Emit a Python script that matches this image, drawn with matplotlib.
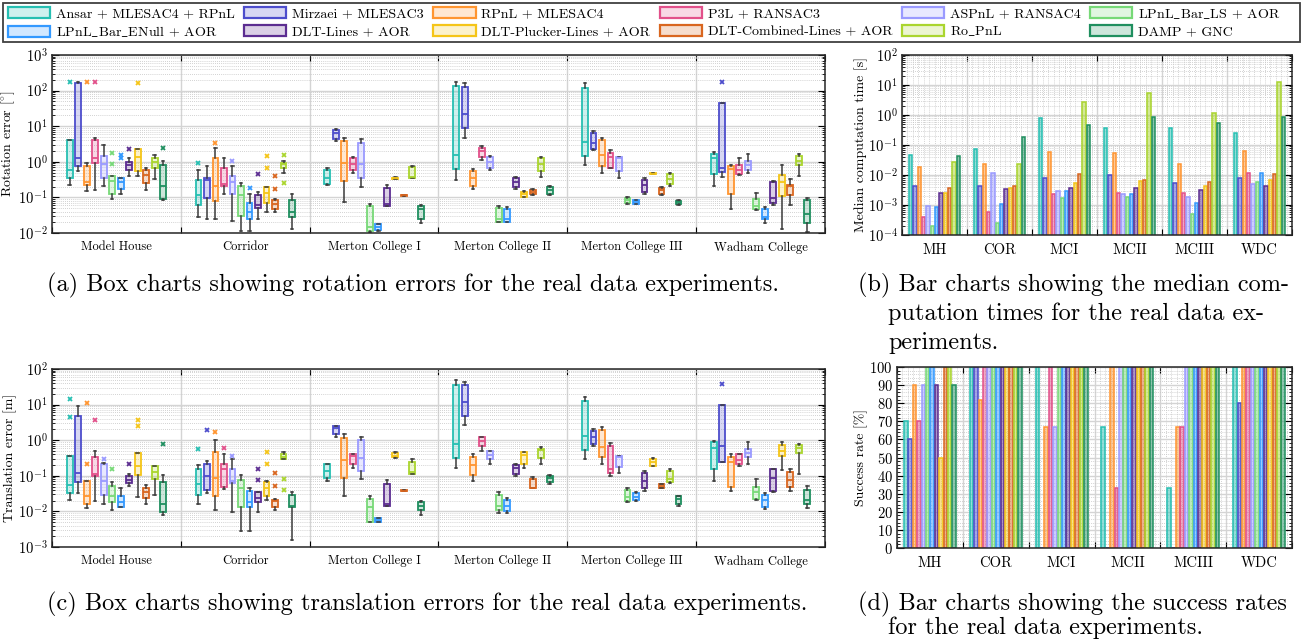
import numpy as np
import matplotlib
matplotlib.use("Agg")
import matplotlib.pyplot as plt
from matplotlib.patches import Patch, Rectangle
from matplotlib.ticker import LogLocator, MultipleLocator, NullFormatter, FixedLocator

plt.rcParams['font.family'] = ['cmr10', 'DejaVu Serif']
plt.rcParams['mathtext.fontset'] = 'cm'
plt.rcParams['axes.formatter.use_mathtext'] = True

# datasets (long names for box charts, short for bar charts)
datasets = ["Model House", "Corridor", "Merton College I", "Merton College II",
            "Merton College III", "Wadham College"]
datasets_short = ["MH", "COR", "MCI", "MCII", "MCIII", "WDC"]

methods = ["Ansar + MLESAC4 + RPnL", "Mirzaei + MLESAC3", "RPnL + MLESAC4",
           "P3L + RANSAC3", "ASPnL + RANSAC4", "LPnL$\\_$Bar$\\_$LS + AOR",
           "LPnL$\\_$Bar$\\_$ENull + AOR", "DLT-Lines + AOR", "DLT-Plucker-Lines + AOR",
           "DLT-Combined-Lines + AOR", "Ro$\\_$PnL", "DAMP + GNC"]
colors = ["#26bfb2", "#4d4dcc", "#ff9530", "#e2508a", "#9a9aff", "#77d977",
          "#3399ff", "#5c2d91", "#f5c518", "#d9661f", "#aad52e", "#1f8f5f"]

# rotation error [deg]: (whisker low, q1, median, q3, whisker high, outliers) per dataset
rot_ansar = [(0.23, 0.34, 0.6, 4.0, 4.0, [178]), (0.028, 0.06, 0.115, 0.3, 0.58, [0.93]),
             (0.23, 0.244, 0.34, 0.58, 0.67, []), (0.3, 0.62, 1.6, 134, 178, []),
             (0.8, 1.47, 3.5, 115, 160, []), (0.215, 0.44, 1.24, 1.71, 1.9, [])]
rot_mirzaei = [(0.55, 0.77, 1.24, 167, 178, []), (0.024, 0.099, 0.3, 0.36, 0.75, []),
               (3.8, 4.5, 6.25, 7.75, 8.3, []), (4.7, 9.0, 21.9, 128, 167, []),
               (2.1, 2.36, 3.27, 6.25, 7.5, []), (0.37, 0.53, 0.67, 45.6, 45.6, [178])]
rot_rpnl = [(0.149, 0.22, 0.27, 0.77, 0.93, [178]), (0.025, 0.078, 0.21, 1.24, 2.47, [3.27]),
            (0.075, 0.284, 0.93, 3.8, 4.7, []), (0.17, 0.21, 0.34, 0.56, 0.64, []),
            (0.49, 0.77, 1.6, 4.05, 4.7, []), (0.048, 0.128, 0.64, 0.75, 0.8, [])]
rot_p3l = [(0.166, 0.93, 1.32, 4.05, 4.8, [170]), (0.122, 0.21, 0.234, 0.67, 1.24, []),
           (0.5, 0.58, 0.85, 1.32, 1.38, []), (1.1, 1.38, 2.0, 2.5, 2.75, []),
           (0.67, 0.67, 1.38, 1.82, 2.2, []), (0.42, 0.44, 0.58, 0.8, 1.24, [])]
rot_aspnl = [(0.21, 0.36, 0.89, 1.47, 2.93, []), (0.022, 0.125, 0.27, 0.41, 0.75, [1.06]),
             (0.2, 0.36, 0.89, 3.48, 4.3, []), (0.58, 0.67, 1.0, 1.38, 1.47, []),
             (0.34, 0.56, 1.29, 1.38, 1.38, []), (0.5, 0.6, 0.8, 1.06, 1.71, [])]
rot_ls = [(0.092, 0.128, 0.29, 0.39, 0.39, [1.78, 0.89]), (0.0114, 0.031, 0.12, 0.21, 0.25, []),
          (0.011, 0.0114, 0.0147, 0.056, 0.067, []), (0.0204, 0.0204, 0.024, 0.05, 0.058, []),
          (0.067, 0.07, 0.083, 0.099, 0.105, []), (0.044, 0.048, 0.056, 0.092, 0.134, [])]
rot_enull = [(0.122, 0.17, 0.27, 0.35, 0.36, [1.6, 1.3]), (0.0114, 0.024, 0.039, 0.07, 0.128, [0.185]),
             (0.0114, 0.0118, 0.0147, 0.0175, 0.018, []), (0.0204, 0.0204, 0.025, 0.048, 0.053, []),
             (0.067, 0.067, 0.076, 0.087, 0.087, []), (0.019, 0.025, 0.029, 0.048, 0.053, [])]
rot_dlt = [(0.4, 0.6, 0.8, 1.0, 1.24, [2.36]), (0.024, 0.05, 0.06, 0.115, 0.143, [0.44]),
           (0.058, 0.058, 0.067, 0.18, 0.22, []), (0.17, 0.2, 0.27, 0.35, 0.37, []),
           (0.125, 0.143, 0.22, 0.3, 0.34, []), (0.063, 0.07, 0.097, 0.27, 0.29, [])]
rot_plucker = [(0.4, 0.54, 1.38, 2.36, 2.36, [167]), (0.039, 0.07, 0.136, 0.2, 0.2, [1.44, 0.67]),
               (0.33, 0.33, 0.34, 0.36, 0.37, []), (0.1, 0.1, 0.122, 0.143, 0.15, []),
               (0.45, 0.45, 0.46, 0.47, 0.47, []), (0.0132, 0.108, 0.27, 0.42, 0.8, [])]
rot_combined = [(0.16, 0.26, 0.42, 0.58, 0.67, []), (0.039, 0.048, 0.064, 0.087, 0.092, [0.4, 0.17]),
                (0.11, 0.11, 0.115, 0.12, 0.12, []), (0.115, 0.122, 0.143, 0.16, 0.17, []),
                (0.12, 0.125, 0.16, 0.18, 0.19, []), (0.063, 0.115, 0.21, 0.23, 0.32, [])]
rot_ropnl = [(0.32, 0.69, 1.0, 1.24, 1.6, []), (0.5, 0.67, 0.85, 0.95, 1.06, [1.6, 0.255]),
             (0.35, 0.35, 0.37, 0.72, 0.77, []), (0.37, 0.56, 0.85, 1.29, 1.38, []),
             (0.21, 0.234, 0.32, 0.45, 0.49, []), (0.39, 0.8, 1.06, 1.47, 1.65, [])]
rot_damp = [(0.085, 0.089, 0.21, 0.79, 1.06, [2.5]), (0.0132, 0.028, 0.039, 0.087, 0.128, []),
            (0.019, 0.025, 0.046, 0.058, 0.06, []), (0.115, 0.122, 0.16, 0.2, 0.21, []),
            (0.062, 0.064, 0.072, 0.08, 0.082, []), (0.0107, 0.019, 0.035, 0.083, 0.097, [])]

# translation error [m]
tra_ansar = [(0.021, 0.032, 0.056, 0.365, 0.365, [14.6, 4.6]), (0.0166, 0.0296, 0.059, 0.152, 0.2, [0.56]),
             (0.071, 0.086, 0.134, 0.21, 0.22, []), (0.166, 0.31, 0.77, 35.8, 49.7, []),
             (0.29, 0.53, 1.32, 12.6, 16.3, []), (0.073, 0.152, 0.61, 0.88, 0.95, [])]
tra_mirzaei = [(0.032, 0.066, 0.12, 4.7, 9.0, []), (0.032, 0.04, 0.1, 0.22, 0.26, [1.88]),
               (1.24, 1.5, 2.27, 2.55, 2.55, []), (2.7, 4.7, 11.8, 35.8, 43.6, []),
               (0.69, 0.78, 1.2, 1.84, 2.0, []), (0.24, 0.24, 0.7, 10, 10, [39])]
tra_rpnl = [(0.0123, 0.016, 0.0265, 0.07, 0.07, [11.2, 0.21]), (0.0112, 0.0277, 0.088, 0.47, 1.0, [1.68]),
            (0.0277, 0.088, 0.27, 1.13, 1.47, []), (0.073, 0.103, 0.2, 0.34, 0.4, []),
            (0.22, 0.33, 0.63, 1.94, 2.4, []), (0.037, 0.05, 0.24, 0.34, 0.4, [])]
tra_p3l = [(0.019, 0.1, 0.115, 0.34, 0.51, [3.7]), (0.043, 0.05, 0.152, 0.21, 0.41, [0.61]),
           (0.17, 0.21, 0.37, 0.4, 0.4, []), (0.49, 0.69, 0.95, 1.27, 1.27, []),
           (0.1, 0.117, 0.16, 0.7, 0.86, []), (0.19, 0.21, 0.28, 0.4, 0.4, [])]
tra_aspnl = [(0.016, 0.029, 0.071, 0.22, 0.23, [0.29]), (0.0098, 0.062, 0.071, 0.152, 0.29, [0.36]),
             (0.083, 0.14, 0.31, 1.0, 1.2, []), (0.22, 0.3, 0.38, 0.5, 0.5, []),
             (0.122, 0.18, 0.34, 0.36, 0.36, []), (0.22, 0.33, 0.43, 0.55, 0.88, [])]
tra_ls = [(0.0108, 0.018, 0.0265, 0.053, 0.066, [0.152]), (0.0029, 0.0135, 0.046, 0.075, 0.106, []),
          (0.0052, 0.0052, 0.013, 0.0225, 0.0277, []), (0.0093, 0.0106, 0.0144, 0.029, 0.035, []),
          (0.0185, 0.019, 0.025, 0.04, 0.046, []), (0.021, 0.0225, 0.0345, 0.048, 0.079, [])]
tra_enull = [(0.013, 0.0135, 0.0178, 0.0277, 0.045, []), (0.0029, 0.0135, 0.018, 0.038, 0.046, []),
             (0.0052, 0.0052, 0.0058, 0.0064, 0.0066, []), (0.0093, 0.01, 0.0144, 0.021, 0.024, []),
             (0.019, 0.0205, 0.026, 0.032, 0.034, []), (0.0114, 0.0137, 0.0215, 0.029, 0.033, [])]
tra_dlt = [(0.053, 0.063, 0.077, 0.1, 0.11, [0.21]), (0.0098, 0.0178, 0.0239, 0.035, 0.036, [0.16, 0.075]),
           (0.0144, 0.0144, 0.0166, 0.059, 0.075, []), (0.1, 0.114, 0.17, 0.2, 0.21, []),
           (0.037, 0.046, 0.073, 0.122, 0.137, []), (0.035, 0.037, 0.088, 0.152, 0.16, [])]
tra_plucker = [(0.026, 0.105, 0.19, 0.44, 0.44, [3.7, 2.55]), (0.0215, 0.0265, 0.046, 0.069, 0.071, [0.47, 0.21]),
               (0.31, 0.33, 0.37, 0.44, 0.47, []), (0.17, 0.22, 0.38, 0.46, 0.47, []),
               (0.185, 0.185, 0.25, 0.29, 0.32, []), (0.15, 0.36, 0.5, 0.74, 0.91, [])]
tra_combined = [(0.0166, 0.0235, 0.036, 0.046, 0.056, []), (0.0112, 0.0135, 0.019, 0.021, 0.022, [0.122, 0.053]),
                (0.037, 0.037, 0.038, 0.04, 0.04, []), (0.045, 0.045, 0.046, 0.083, 0.093, []),
                (0.045, 0.045, 0.053, 0.059, 0.059, []), (0.037, 0.05, 0.077, 0.128, 0.16, [])]
tra_ropnl = [(0.029, 0.083, 0.128, 0.19, 0.19, []), (0.29, 0.29, 0.34, 0.4, 0.47, [0.079, 0.04]),
             (0.112, 0.112, 0.13, 0.25, 0.29, []), (0.22, 0.31, 0.52, 0.58, 0.63, []),
             (0.062, 0.066, 0.083, 0.137, 0.152, []), (0.115, 0.44, 0.61, 0.74, 0.78, [])]
tra_damp = [(0.008, 0.0098, 0.0166, 0.069, 0.103, [0.77]), (0.0016, 0.013, 0.0144, 0.029, 0.035, []),
            (0.008, 0.0106, 0.0144, 0.018, 0.019, []), (0.059, 0.066, 0.086, 0.1, 0.103, []),
            (0.0144, 0.0166, 0.022, 0.0277, 0.0277, []), (0.0123, 0.0157, 0.021, 0.041, 0.053, [])]

# median computation time [s]
time_ansar = [0.046, 0.074, 0.77, 0.36, 0.38, 0.245]
time_mirzaei = [0.0043, 0.0044, 0.0077, 0.010, 0.0055, 0.0077]
time_rpnl = [0.019, 0.023, 0.057, 0.053, 0.023, 0.063]
time_p3l = [0.00039, 0.0006, 0.0023, 0.0026, 0.0026, 0.012]
time_aspnl = [0.00093, 0.012, 0.0030, 0.0023, 0.0018, 0.0049]
time_ls = [0.0002, 0.000245, 0.00175, 0.0018, 0.0005, 0.006]
time_enull = [0.00085, 0.00108, 0.0030, 0.0024, 0.0012, 0.012]
time_dlt = [0.0026, 0.0034, 0.0038, 0.0036, 0.0032, 0.0044]
time_plucker = [0.0025, 0.0038, 0.0055, 0.0063, 0.0043, 0.007]
time_combined = [0.0038, 0.0044, 0.011, 0.007, 0.0057, 0.0107]
time_ropnl = [0.0264, 0.023, 2.8, 5.5, 1.13, 12.3]
time_damp = [0.044, 0.19, 0.46, 0.88, 0.53, 0.88]

# success rate [%]
succ_ansar = [70, 100, 100, 66.7, 33.3, 100]
succ_mirzaei = [60, 100, 0, 0, 0, 80]
succ_rpnl = [90, 81.8, 66.7, 100, 66.7, 100]
succ_p3l = [70, 100, 100, 33.3, 66.7, 100]
succ_aspnl = [90, 100, 66.7, 100, 100, 100]
succ_ls = [100, 100, 100, 100, 100, 100]
succ_enull = [100, 100, 100, 100, 100, 100]
succ_dlt = [90, 100, 100, 100, 100, 100]
succ_plucker = [50, 100, 100, 100, 100, 100]
succ_combined = [100, 100, 100, 100, 100, 100]
succ_ropnl = [100, 100, 100, 100, 100, 100]
succ_damp = [90, 100, 100, 100, 100, 100]

rot_all = [rot_ansar, rot_mirzaei, rot_rpnl, rot_p3l, rot_aspnl, rot_ls, rot_enull,
           rot_dlt, rot_plucker, rot_combined, rot_ropnl, rot_damp]
tra_all = [tra_ansar, tra_mirzaei, tra_rpnl, tra_p3l, tra_aspnl, tra_ls, tra_enull,
           tra_dlt, tra_plucker, tra_combined, tra_ropnl, tra_damp]
time_all = [time_ansar, time_mirzaei, time_rpnl, time_p3l, time_aspnl, time_ls, time_enull,
            time_dlt, time_plucker, time_combined, time_ropnl, time_damp]
succ_all = [succ_ansar, succ_mirzaei, succ_rpnl, succ_p3l, succ_aspnl, succ_ls, succ_enull,
            succ_dlt, succ_plucker, succ_combined, succ_ropnl, succ_damp]

W, H = 1305, 639
fig = plt.figure(figsize=(W / 100, H / 100), dpi=100)


def fx(px):
    return px / W


def fy(py):
    return 1 - py / H


def style_axes(ax, labels, fs=9):
    n = len(labels)
    ax.set_xlim(-0.5, n - 0.5)
    ax.xaxis.set_major_locator(FixedLocator(np.arange(n + 1) - 0.5))
    ax.xaxis.set_major_formatter(NullFormatter())
    ax.xaxis.set_minor_locator(FixedLocator(np.arange(n)))
    ax.set_xticklabels(labels, minor=True, fontsize=fs)
    ax.tick_params(axis='x', which='minor', length=0, pad=6)
    ax.tick_params(axis='x', which='major', length=4, direction='in', top=True)
    ax.tick_params(axis='y', which='both', direction='in', left=True, right=True)
    ax.tick_params(axis='y', which='major', length=5, labelsize=10.5, pad=3)
    ax.tick_params(axis='y', which='minor', length=2.5)
    ax.grid(True, axis='x', which='major', color='#d4d4d4', lw=1.0)
    ax.grid(True, axis='y', which='major', color='#d4d4d4', lw=1.0)
    ax.grid(True, axis='y', which='minor', color='#c4c4c4', lw=0.6, ls=(0, (1, 1.5)))
    ax.set_axisbelow(True)
    for s in ax.spines.values():
        s.set_linewidth(1.1)
        s.set_color('#262626')


def box_panel(ax, data, ylim, ylabel):
    n = len(datasets)
    for k, (meth, col) in enumerate(zip(data, colors)):
        stats = []
        for lo, q1, med, q3, hi, fl in meth:
            stats.append(dict(whislo=lo, q1=q1, med=med, q3=q3, whishi=hi, fliers=fl))
        pos = np.arange(n) + (k - 5.5) * 0.066
        ax.bxp(stats, positions=pos, widths=0.046, patch_artist=True, manage_ticks=False,
               capwidths=0.02,
               boxprops=dict(facecolor=matplotlib.colors.to_rgba(col, 0.22), edgecolor=col, linewidth=1.3),
               medianprops=dict(color=col, linewidth=1.3),
               whiskerprops=dict(color='#3a3a3a', linewidth=1.1),
               capprops=dict(color='#3a3a3a', linewidth=1.1),
               flierprops=dict(marker='x', markeredgecolor=col, markersize=3.5, markeredgewidth=1.3))
    ax.set_yscale('log')
    ax.set_ylim(*ylim)
    ax.yaxis.set_major_locator(LogLocator(base=10, numticks=12))
    ax.yaxis.set_minor_locator(LogLocator(base=10, subs=np.arange(2, 10), numticks=12))
    ax.yaxis.set_minor_formatter(NullFormatter())
    style_axes(ax, datasets)
    ax.set_ylabel(ylabel, fontsize=10)
    ax.yaxis.set_label_coords(-0.045, 0.5)


def bar_panel(ax, data, log, ylim, ylabel, label_x):
    n = len(datasets_short)
    for k, (vals, col) in enumerate(zip(data, colors)):
        pos = np.arange(n) + (k - 5.5) * 0.0667
        bottom = 1e-6 if log else 0
        ax.bar(pos, np.array(vals) - bottom, width=0.054, bottom=bottom,
               color=matplotlib.colors.to_rgba(col, 0.5), edgecolor=col, linewidth=1.1)
    if log:
        ax.set_yscale('log')
        ax.yaxis.set_major_locator(LogLocator(base=10, numticks=12))
        ax.yaxis.set_minor_locator(LogLocator(base=10, subs=np.arange(2, 10), numticks=12))
        ax.yaxis.set_minor_formatter(NullFormatter())
    else:
        ax.yaxis.set_major_locator(MultipleLocator(10))
        ax.yaxis.set_minor_locator(MultipleLocator(2))
    ax.set_ylim(*ylim)
    style_axes(ax, datasets_short, fs=10.5)
    # dotted vertical background grid
    for xv in np.arange(-0.5, n - 0.5, 1 / 12)[1:]:
        if abs(xv - round(xv - 0.5) - 0.5) > 1e-6:
            ax.axvline(xv, color='#c4c4c4', lw=0.6, ls=(0, (1, 1.5)), zorder=0.5)
    ax.set_ylabel(ylabel, fontsize=10)
    ax.yaxis.set_label_coords(label_x, 0.5)


ax_a = fig.add_axes([fx(52), fy(233), fx(825 - 52), (233 - 55) / H])
box_panel(ax_a, rot_all, (1e-2, 1e3), "Rotation error [$^{\\circ}$]")

ax_b = fig.add_axes([fx(902), fy(235), fx(1292 - 902), (235 - 55) / H])
bar_panel(ax_b, time_all, True, (1e-4, 1e2), "Median computation time [s]", -0.087)

ax_c = fig.add_axes([fx(52), fy(547), fx(825 - 52), (547 - 369) / H])
box_panel(ax_c, tra_all, (1e-3, 1e2), "Translation error [m]")

ax_d = fig.add_axes([fx(897), fy(548), fx(1292 - 897), (548 - 367) / H])
bar_panel(ax_d, succ_all, False, (0, 100), "Success rate [%]", -0.073)

# legend: two rows, six columns (matplotlib fills column by column)
order = [0, 6, 1, 7, 2, 8, 3, 9, 4, 10, 5, 11]
handles = [Patch(facecolor=matplotlib.colors.to_rgba(colors[i], 0.22), edgecolor=colors[i], linewidth=1.6)
           for i in order]
leg = fig.legend(handles, [methods[i] for i in order], ncol=6, loc='upper left',
                 bbox_to_anchor=(fx(5), fy(4)), frameon=False,
                 fontsize=10.1, handlelength=3.0, handleheight=0.85, handletextpad=0.4,
                 labelspacing=0.28, borderpad=0.2, borderaxespad=0, columnspacing=0.7)
fig.patches.append(Rectangle((fx(3), fy(42)), fx(1297), 39 / H, transform=fig.transFigure,
                             fill=False, edgecolor='#404040', lw=1.3))

cap = 17.5
fig.text(fx(47), fy(285), "(a) Box charts showing rotation errors for the real data experiments.",
         fontsize=cap, va='center')
fig.text(fx(858), fy(285), "(b) Bar charts showing the median com-", fontsize=cap, va='center')
fig.text(fx(888), fy(314), "putation times for the real data ex-", fontsize=cap, va='center')
fig.text(fx(888), fy(343), "periments.", fontsize=cap, va='center')
fig.text(fx(47), fy(604), "(c) Box charts showing translation errors for the real data experiments.",
         fontsize=cap, va='center')
fig.text(fx(858), fy(604), "(d) Bar charts showing the success rates", fontsize=cap, va='center')
fig.text(fx(888), fy(628), "for the real data experiments.", fontsize=cap, va='center')

fig.savefig("out.png", dpi=100)
